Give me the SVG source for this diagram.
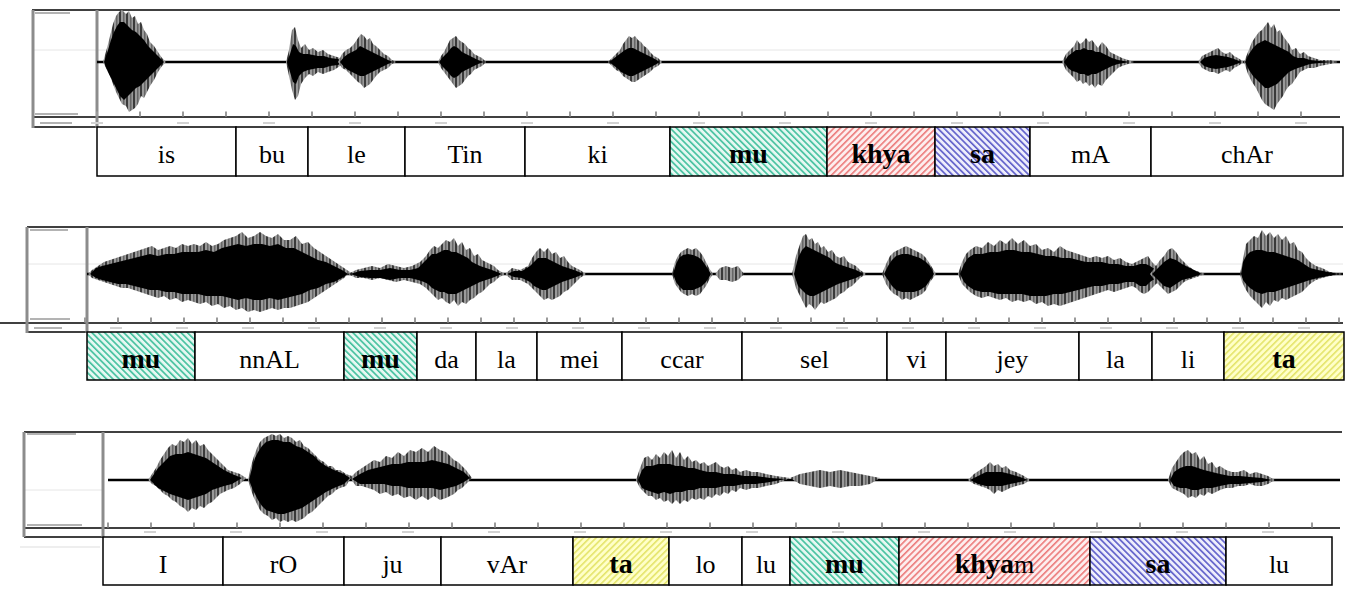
<svg xmlns="http://www.w3.org/2000/svg" width="1364" height="605" viewBox="0 0 1364 605">
<defs>
<pattern id="pTeal" patternUnits="userSpaceOnUse" width="4.5" height="4.5" patternTransform="rotate(-45)"><rect width="4.5" height="4.5" fill="#e6f8f2"/><rect width="1.6" height="4.5" fill="#3fbf9c"/></pattern>
<pattern id="pRed" patternUnits="userSpaceOnUse" width="4.5" height="4.5" patternTransform="rotate(45)"><rect width="4.5" height="4.5" fill="#fdeeee"/><rect width="1.6" height="4.5" fill="#ec7b7b"/></pattern>
<pattern id="pBlue" patternUnits="userSpaceOnUse" width="4.5" height="4.5" patternTransform="rotate(-45)"><rect width="4.5" height="4.5" fill="#eeeefc"/><rect width="1.6" height="4.5" fill="#5b5bc8"/></pattern>
<pattern id="pYellow" patternUnits="userSpaceOnUse" width="4.5" height="4.5" patternTransform="rotate(45)"><rect width="4.5" height="4.5" fill="#ffffc8"/><rect width="1.6" height="4.5" fill="#e4e46a"/></pattern>
<pattern id="pWave" patternUnits="userSpaceOnUse" width="7" height="10"><rect width="7" height="10" fill="#9a9a9a"/><rect width="2" height="10" fill="#3a3a3a"/><rect x="4" width="1.5" height="10" fill="#666"/></pattern>
</defs>
<style>
.box{stroke:#000;stroke-width:1.5;fill:#fff}
.t{font-family:"Liberation Serif","Times New Roman",serif;font-size:26px;fill:#000;text-anchor:middle}
.b{font-weight:bold;font-size:28px}
.n{font-weight:normal;font-size:26px}
.frame{stroke:#000;stroke-width:1.5;fill:none}
.vax{stroke:#8c8c8c;stroke-width:3;fill:none}
.grid{stroke:#e6e6e6;stroke-width:1}
.tick{stroke:#9a9a9a;stroke-width:5;fill:none}
.tlab{stroke:#d2d2d2;stroke-width:2;fill:none}
.base{stroke:#000;stroke-width:2.5;fill:none}
.g{fill:url(#pWave)}
.k{fill:#000}
.smudge{stroke:#9a9a9a;stroke-width:1.5}
</style>

<!-- Panel 1 -->
<g id="wave1">
<line class="grid" x1="33" y1="50" x2="1340" y2="50"/>
<line class="frame" x1="32" y1="10" x2="1340" y2="10"/>
<line class="frame" x1="32" y1="117" x2="1340" y2="117" stroke-width="1.2"/>
<line class="frame" x1="32" y1="127" x2="97" y2="127" stroke-width="1.2"/>
<line class="vax" x1="33" y1="10" x2="33" y2="128"/>
<line class="vax" x1="97" y1="10" x2="97" y2="128"/>
<line class="smudge" x1="35" y1="13" x2="70" y2="13"/>
<line class="smudge" x1="35" y1="114" x2="78" y2="114"/>
<line class="smudge" x1="40" y1="123" x2="72" y2="123" stroke="#ccc"/>
<line class="tick" x1="96" y1="114" x2="1340" y2="114" stroke-dasharray="2 41"/>
<line class="tlab" x1="91" y1="123" x2="1340" y2="123" stroke-dasharray="12 74"/>
<line class="base" x1="97" y1="62" x2="1340" y2="62"/>
<path class="g" d="M103,62 L107,48 110,36 113,24 116,16 119,12 122,10 126,14 129,11 132,18 135,16 138,24 141,22 144,30 147,34 150,42 154,46 158,52 162,58 166,62 L162,66 158,72 154,80 150,86 147,92 144,98 141,96 138,104 135,108 132,110 129,112 126,106 122,104 119,98 116,92 113,84 110,76 107,70 Z"/>
<path class="k" d="M104,62 L108,50 111,40 114,32 117,26 120,22 124,22 128,26 132,30 136,32 140,36 144,40 148,46 152,50 156,54 160,58 164,62 L160,66 156,70 152,74 148,78 144,82 140,86 136,88 132,92 128,96 124,100 120,96 117,90 114,84 111,78 108,72 Z"/>
<path class="g" d="M286,62 L289,50 292,30 295,27 298,40 301,48 305,44 309,50 313,48 318,52 323,50 328,54 334,56 340,58 345,62 L340,66 334,70 328,72 323,74 318,72 313,76 309,74 305,78 301,84 298,96 295,100 292,90 289,76 Z"/>
<path class="k" d="M287,62 L290,54 293,44 296,46 299,52 303,54 308,54 313,55 318,56 324,56 330,58 338,59 344,62 L338,65 330,66 324,68 318,68 313,69 308,70 303,72 299,76 296,84 293,82 290,72 Z"/>
<path class="g" d="M338,62 L342,54 346,50 350,48 354,44 358,38 361,34 364,36 367,40 370,38 373,44 376,46 380,50 384,54 388,56 392,60 396,62 L392,64 388,68 384,70 380,72 376,76 373,80 370,84 367,86 364,88 361,84 358,82 354,78 350,74 346,70 342,68 Z"/>
<path class="k" d="M340,62 L344,57 348,54 352,52 356,50 360,46 364,48 368,50 372,52 376,54 380,56 384,58 388,60 393,62 L388,64 384,66 380,68 376,70 372,72 368,74 364,76 360,76 356,74 352,72 348,70 344,67 Z"/>
<path class="g" d="M438,62 L441,56 444,52 447,46 450,40 453,38 456,36 459,40 462,42 465,44 468,48 471,50 474,54 478,56 482,58 486,62 L482,66 478,68 474,70 471,74 468,76 465,80 462,84 459,86 456,88 453,84 450,80 447,76 444,72 441,68 Z"/>
<path class="k" d="M439,62 L442,58 445,55 448,52 451,48 454,46 458,48 462,52 466,54 470,56 474,58 478,60 484,62 L478,64 474,66 470,68 466,70 462,72 458,76 454,78 451,76 448,72 445,69 442,66 Z"/>
<path class="g" d="M608,62 L612,58 616,54 620,50 623,44 626,40 629,36 632,38 635,36 638,40 641,42 644,46 647,48 650,52 654,56 658,58 662,62 L658,66 654,68 650,72 647,74 644,76 641,78 638,80 635,82 632,82 629,80 626,78 623,76 620,72 616,70 612,66 Z"/>
<path class="k" d="M609,62 L613,59 617,56 621,53 625,50 629,48 633,48 637,50 641,52 645,54 649,56 653,58 660,62 L653,66 649,68 645,70 641,72 637,74 633,76 629,76 625,74 621,72 617,68 613,65 Z"/>
<path class="g" d="M1062,62 L1066,54 1070,50 1074,46 1077,40 1080,44 1083,42 1086,38 1089,42 1092,40 1095,44 1098,48 1102,42 1106,46 1110,52 1114,54 1118,56 1122,58 1128,60 1134,62 L1128,64 1122,66 1118,68 1114,72 1110,76 1106,80 1102,86 1098,84 1095,88 1092,84 1089,86 1086,82 1083,84 1080,80 1077,82 1074,78 1070,74 1066,70 Z"/>
<path class="k" d="M1064,62 L1068,56 1072,53 1076,50 1080,50 1084,48 1088,50 1092,50 1096,52 1100,52 1104,54 1108,56 1112,58 1118,60 1130,62 L1118,64 1112,66 1108,68 1104,70 1100,72 1096,74 1092,74 1088,76 1084,74 1080,74 1076,72 1072,71 1068,68 Z"/>
<path class="g" d="M1198,62 L1202,56 1206,54 1210,52 1214,50 1218,48 1222,52 1226,54 1230,52 1234,56 1238,58 1244,62 L1238,66 1234,68 1230,72 1226,70 1222,72 1218,74 1214,72 1210,72 1206,70 1202,68 Z"/>
<path class="k" d="M1200,62 L1204,58 1210,56 1216,55 1222,56 1228,57 1234,59 1242,62 L1234,65 1228,67 1222,68 1216,69 1210,68 1204,66 Z"/>
<path class="g" d="M1244,62 L1248,52 1252,42 1256,36 1259,32 1262,30 1265,26 1268,22 1271,28 1274,24 1277,32 1280,30 1283,36 1286,40 1289,44 1292,50 1296,48 1300,54 1304,52 1308,56 1314,58 1320,60 1330,60 1338,62 L1330,64 1320,66 1314,68 1308,68 1304,70 1300,72 1296,78 1292,84 1289,86 1286,90 1283,96 1280,100 1277,104 1274,110 1271,108 1268,106 1265,104 1262,100 1259,94 1256,88 1252,82 1248,74 Z"/>
<path class="k" d="M1245,62 L1249,54 1253,48 1257,44 1261,42 1265,40 1269,42 1273,44 1277,46 1281,48 1285,50 1289,52 1293,56 1298,58 1304,58 1310,60 1320,61 1336,62 L1320,63 1310,64 1304,66 1298,68 1293,70 1289,72 1285,76 1281,80 1277,84 1273,86 1269,88 1265,88 1261,84 1257,80 1253,76 1249,70 Z"/>
</g>

<!-- Panel 2 -->
<g id="wave2">
<line class="grid" x1="27" y1="264" x2="1343" y2="264"/>
<line class="frame" x1="27" y1="227" x2="1343" y2="227" stroke="#777" stroke-width="1.2"/>
<line class="frame" x1="0" y1="323" x2="1343" y2="323" stroke-width="1.2"/>
<line class="frame" x1="27" y1="332" x2="87" y2="332" stroke-width="1.2"/>
<line class="vax" x1="27" y1="227" x2="27" y2="333"/>
<line class="vax" x1="87" y1="227" x2="87" y2="333"/>
<line class="smudge" x1="30" y1="230" x2="68" y2="230"/>
<line class="smudge" x1="30" y1="319" x2="70" y2="319"/>
<line class="smudge" x1="34" y1="328" x2="62" y2="328" stroke="#ccc"/>
<line class="tick" x1="84" y1="320" x2="1343" y2="320" stroke-dasharray="2 31"/>
<line class="tlab" x1="110" y1="328" x2="1343" y2="328" stroke-dasharray="12 54"/>
<line class="base" x1="87" y1="274" x2="1343" y2="274"/>
<path class="g" d="M88,274 L92,270 98,266 104,262 110,260 116,258 122,256 128,254 134,252 140,250 146,248 152,246 158,250 164,248 170,246 176,248 182,244 188,246 194,244 200,246 206,242 212,246 218,244 224,240 230,238 236,236 242,232 248,238 254,236 260,232 266,236 272,238 278,234 284,240 290,240 296,236 302,244 308,242 314,248 320,252 326,256 332,260 338,264 344,268 350,272 L344,278 338,282 332,286 326,290 320,294 314,298 308,302 302,304 296,306 290,308 284,308 278,310 272,308 266,310 260,312 254,310 248,312 242,308 236,310 230,306 224,308 218,304 212,306 206,302 200,304 194,302 188,300 182,302 176,298 170,300 164,296 158,298 152,296 146,294 140,292 134,290 128,288 122,288 116,286 110,284 104,282 98,280 92,278 Z"/>
<path class="k" d="M90,274 L96,268 102,266 110,264 118,262 126,260 134,258 142,256 150,254 158,256 166,254 174,254 182,252 190,252 198,252 206,250 214,252 222,248 230,246 238,244 246,246 254,244 262,244 270,246 278,244 286,248 294,248 302,252 310,256 318,260 326,262 334,266 342,270 348,274 L342,278 334,282 326,284 318,288 310,290 302,294 294,296 286,298 278,300 270,298 262,300 254,300 246,298 238,300 230,298 222,296 214,296 206,296 198,294 190,294 182,294 174,292 166,292 158,290 150,290 142,288 134,286 126,284 118,284 110,282 102,280 96,278 Z"/>
<path class="g" d="M348,274 L356,270 364,268 372,266 380,268 388,264 396,266 404,268 412,266 420,262 426,256 430,250 434,246 438,248 442,244 446,240 450,242 454,238 458,246 462,242 466,250 470,248 474,256 478,254 482,260 486,262 490,264 494,266 498,270 505,274 L498,278 494,282 490,284 486,288 482,292 478,294 474,298 470,300 466,304 462,302 458,306 454,300 450,304 446,302 442,298 438,300 434,296 430,292 426,288 420,284 412,282 404,280 396,282 388,280 380,278 372,280 364,278 356,278 Z"/>
<path class="k" d="M350,274 L360,271 370,270 380,270 390,268 400,270 410,270 418,268 424,262 428,258 432,254 436,254 440,252 444,250 448,250 452,252 456,252 460,254 464,256 468,258 472,262 476,264 480,266 486,268 492,270 502,274 L492,278 486,280 480,282 476,284 472,286 468,288 464,290 460,292 456,294 452,294 448,294 444,292 440,292 436,290 432,288 428,284 424,282 418,280 410,278 400,278 390,280 380,278 370,278 360,277 Z"/>
<path class="g" d="M505,274 L512,268 520,270 528,266 532,258 536,252 540,248 544,252 548,248 552,254 556,252 560,258 564,256 568,262 572,266 576,268 580,270 586,274 L580,278 576,282 572,286 568,290 564,292 560,296 556,298 552,300 548,298 544,300 540,296 536,292 532,288 528,284 520,280 512,280 Z"/>
<path class="k" d="M507,274 L514,271 522,271 530,266 534,262 538,258 542,258 546,258 550,260 554,262 558,264 562,266 568,268 574,270 584,274 L574,278 568,280 562,282 558,284 554,286 550,288 546,290 542,290 538,288 534,286 530,282 522,278 514,277 Z"/>
<path class="g" d="M672,274 L675,262 678,256 681,252 684,250 688,248 692,250 696,248 700,252 703,256 706,262 709,268 713,274 L709,280 706,286 703,290 700,294 696,296 692,294 688,296 684,294 681,292 678,288 675,284 Z"/>
<path class="k" d="M673,274 L676,264 679,258 683,255 688,254 693,255 698,257 702,260 706,266 711,274 L706,282 702,286 698,288 693,290 688,290 683,290 679,286 676,282 Z"/>
<path class="g" d="M715,274 L720,268 726,266 732,268 738,266 744,274 L738,280 732,282 726,280 720,280 Z"/>
<path class="g" d="M792,274 L796,256 800,244 803,236 806,234 809,240 812,238 815,244 818,242 821,248 824,246 828,252 832,250 836,256 840,258 844,256 848,262 852,264 856,266 860,270 866,274 L860,278 856,282 852,286 848,288 844,292 840,294 836,298 832,300 828,302 824,304 821,302 818,306 815,310 812,306 809,304 806,308 803,302 800,296 796,288 Z"/>
<path class="k" d="M794,274 L798,258 802,250 806,246 810,248 814,250 818,252 822,254 826,256 830,258 834,262 838,264 844,266 850,268 856,270 864,274 L856,278 850,280 844,282 838,284 834,286 830,288 826,290 822,292 818,294 814,296 810,296 806,294 802,290 798,286 Z"/>
<path class="g" d="M882,274 L886,264 890,256 894,252 898,250 902,248 906,246 910,248 914,250 918,252 922,254 926,258 930,264 936,274 L930,282 926,290 922,294 918,296 914,298 910,300 906,298 902,300 898,296 894,294 890,290 886,284 Z"/>
<path class="k" d="M884,274 L888,266 892,260 896,256 902,254 908,254 914,256 920,258 926,262 930,266 934,274 L930,280 926,286 920,290 914,292 908,292 902,292 896,290 892,286 888,280 Z"/>
<path class="g" d="M958,274 L962,262 966,254 970,250 976,246 982,248 988,242 994,246 1000,240 1006,244 1012,238 1018,244 1024,240 1030,246 1036,244 1042,250 1048,248 1054,252 1060,246 1066,250 1072,252 1078,254 1084,256 1090,258 1096,256 1102,258 1108,256 1114,260 1120,258 1126,262 1132,264 1136,262 1140,260 1144,258 1148,256 1152,262 1156,266 1162,270 1170,272 1180,274 L1170,276 1162,280 1156,284 1152,288 1148,292 1144,294 1140,292 1136,288 1132,286 1126,288 1120,290 1114,292 1108,290 1102,292 1096,294 1090,296 1084,298 1078,300 1072,302 1066,304 1060,306 1054,304 1048,306 1042,302 1036,304 1030,300 1024,302 1018,300 1012,302 1006,298 1000,300 994,298 988,296 982,298 976,296 970,292 966,288 962,284 Z"/>
<path class="k" d="M960,274 L964,264 968,258 974,254 982,254 990,252 998,252 1006,250 1014,250 1022,252 1030,252 1038,254 1046,256 1054,256 1062,258 1070,258 1078,260 1086,262 1094,262 1102,262 1110,264 1118,264 1126,266 1134,266 1140,264 1146,264 1150,266 1156,270 1166,273 1176,274 L1166,275 1156,278 1150,282 1146,286 1140,286 1134,282 1126,282 1118,284 1110,284 1102,286 1094,286 1086,288 1078,290 1070,292 1062,294 1054,294 1046,296 1038,296 1030,296 1022,294 1014,294 1006,294 998,294 990,292 982,292 974,290 968,286 964,282 Z"/>
<path class="g" d="M1150,274 L1156,266 1160,260 1164,256 1168,250 1172,248 1176,252 1180,258 1184,262 1188,266 1194,270 1205,274 L1194,278 1188,280 1184,282 1180,286 1176,290 1172,292 1168,294 1164,290 1160,286 1156,282 Z"/>
<path class="k" d="M1152,274 L1158,268 1164,262 1170,258 1176,260 1182,264 1190,268 1202,274 L1190,278 1182,280 1176,284 1170,288 1164,286 1158,280 Z"/>
<path class="g" d="M1240,274 L1242,264 1244,254 1246,244 1250,240 1254,236 1258,238 1262,230 1266,236 1270,232 1274,238 1278,234 1282,240 1286,236 1290,244 1294,242 1298,250 1302,252 1306,258 1310,262 1316,266 1322,268 1330,272 1343,274 L1330,276 1322,278 1316,280 1310,284 1306,288 1302,292 1298,294 1294,296 1290,298 1286,300 1282,298 1278,302 1274,300 1270,306 1266,302 1262,308 1258,304 1254,300 1250,296 1246,290 1244,286 1242,282 Z"/>
<path class="k" d="M1241,274 L1243,262 1246,256 1250,252 1256,250 1262,250 1268,252 1274,252 1280,254 1286,256 1292,258 1298,260 1304,264 1310,268 1318,270 1328,272 1340,274 L1328,276 1318,278 1310,280 1304,282 1298,284 1292,286 1286,288 1280,290 1274,292 1268,292 1262,294 1256,292 1250,288 1246,284 1243,280 Z"/>
</g>

<!-- Panel 3 -->
<g id="wave3">
<line class="grid" x1="24" y1="490" x2="103" y2="490"/>
<line class="frame" x1="24" y1="432" x2="1342" y2="432"/>
<line class="frame" x1="24" y1="528" x2="1340" y2="528" stroke="#888" stroke-width="1.2"/>
<line class="frame" x1="24" y1="537" x2="103" y2="537" stroke-width="1.2"/>
<line class="vax" x1="24" y1="432" x2="24" y2="537"/>
<line class="vax" x1="103" y1="432" x2="103" y2="537"/>
<line class="smudge" x1="27" y1="434" x2="76" y2="434"/>
<line class="smudge" x1="27" y1="525" x2="82" y2="525"/>
<line x1="20" y1="547" x2="100" y2="547" stroke="#eee" stroke-width="2"/>
<line class="tick" x1="107" y1="525" x2="1340" y2="525" stroke-dasharray="2 41"/>
<line class="tlab" x1="144" y1="532" x2="1340" y2="532" stroke-dasharray="12 74"/>
<line class="base" x1="108" y1="480" x2="1340" y2="480"/>
<path class="g" d="M148,480 L152,474 156,468 160,460 164,454 168,448 172,444 176,446 180,440 184,442 188,438 192,444 196,440 200,446 204,444 208,450 212,454 216,458 220,462 224,466 228,470 234,472 240,474 246,478 L240,484 234,488 228,490 224,492 220,494 216,498 212,502 208,504 204,508 200,506 196,510 192,508 188,512 184,508 180,506 176,502 172,500 168,496 164,494 160,490 156,486 152,484 Z"/>
<path class="k" d="M150,480 L154,474 158,468 162,464 166,460 170,456 176,454 182,454 188,452 194,454 200,456 206,458 212,462 218,466 224,470 232,474 242,478 L232,484 224,486 218,488 212,490 206,494 200,496 194,498 188,500 182,498 176,496 170,494 166,492 162,490 158,488 154,484 Z"/>
<path class="g" d="M248,480 L251,466 254,456 257,448 260,442 264,438 268,436 272,434 276,436 280,434 284,438 288,436 292,438 296,442 300,440 304,446 308,448 312,452 316,456 320,460 324,462 328,466 332,466 336,470 340,470 346,474 352,476 L346,486 340,488 336,490 332,494 328,496 324,500 320,504 316,508 312,512 308,514 304,518 300,520 296,522 292,520 288,522 284,520 280,522 276,518 272,520 268,516 264,514 260,510 257,504 254,498 251,490 Z"/>
<path class="k" d="M249,480 L252,468 255,458 258,452 262,446 266,442 272,440 278,440 284,442 290,442 296,446 302,448 308,452 314,456 320,462 326,466 334,470 344,474 350,478 L344,484 334,488 326,492 320,496 314,500 308,504 302,508 296,510 290,512 284,514 278,514 272,512 266,510 262,506 258,500 255,494 252,488 Z"/>
<path class="g" d="M350,478 L356,472 362,468 368,464 374,460 380,462 386,456 392,458 398,452 404,456 410,450 416,452 422,448 428,452 434,446 440,450 446,452 450,456 454,460 458,462 462,466 466,470 472,478 L466,484 462,488 458,490 454,494 450,496 446,498 440,500 434,496 428,500 422,496 416,500 410,496 404,498 398,494 392,496 386,492 380,494 374,490 368,488 362,486 356,486 Z"/>
<path class="k" d="M352,479 L360,474 368,470 376,468 384,466 392,464 400,464 408,462 416,462 424,462 432,460 440,462 448,464 456,468 464,472 470,478 L464,482 456,486 448,488 440,490 432,488 424,488 416,488 408,488 400,486 392,486 384,484 376,484 368,484 360,484 Z"/>
<path class="g" d="M636,480 L640,468 644,458 648,456 652,460 656,454 660,458 664,452 668,456 672,450 676,458 680,452 684,460 688,456 692,462 696,460 700,464 704,462 708,466 712,464 716,462 720,466 724,468 728,466 732,470 736,468 740,472 746,470 752,472 758,472 766,474 776,476 790,478 L776,484 766,486 758,488 752,488 746,490 740,488 736,492 732,490 728,494 724,492 720,496 716,494 712,498 708,496 704,500 700,498 696,500 692,498 688,502 684,500 680,504 676,500 672,504 668,500 664,502 660,498 656,500 652,496 648,496 644,492 640,488 Z"/>
<path class="k" d="M638,480 L642,470 646,466 652,466 658,464 664,464 670,464 676,466 682,466 688,468 694,468 700,470 708,472 716,472 724,474 734,474 744,476 756,476 770,478 786,479 L770,482 756,484 744,484 734,486 724,486 716,488 708,488 700,488 694,490 688,490 682,492 676,492 670,494 664,492 658,494 652,492 646,490 642,488 Z"/>
<path class="g" d="M790,478 L800,474 810,472 820,470 830,472 840,470 850,472 860,474 870,476 880,478 L870,484 860,486 850,486 840,488 830,486 820,488 810,486 800,484 Z"/>
<path class="g" d="M968,480 L974,474 980,470 986,466 990,462 994,466 998,464 1002,468 1006,466 1010,470 1016,472 1024,476 1030,480 L1024,484 1016,486 1010,488 1006,490 1002,492 998,490 994,494 990,490 986,488 980,486 974,484 Z"/>
<path class="k" d="M970,480 L978,476 986,472 994,472 1002,472 1010,474 1020,477 1028,480 L1020,482 1010,484 1002,486 994,486 986,486 978,484 Z"/>
<path class="g" d="M1168,480 L1172,468 1176,462 1180,456 1184,452 1188,450 1192,454 1196,452 1200,460 1204,456 1208,464 1212,462 1216,468 1220,466 1226,470 1232,472 1238,472 1244,470 1250,474 1256,472 1262,474 1268,476 1275,480 L1268,484 1262,486 1256,486 1250,484 1244,486 1238,486 1232,488 1226,488 1220,490 1216,492 1212,494 1208,492 1204,496 1200,494 1196,498 1192,496 1188,498 1184,494 1180,492 1176,490 1172,488 Z"/>
<path class="k" d="M1170,480 L1174,472 1180,468 1186,466 1192,466 1198,468 1204,470 1212,472 1220,474 1230,476 1240,476 1250,477 1262,478 1272,480 L1262,482 1250,483 1240,484 1230,484 1220,486 1212,488 1204,488 1198,490 1192,490 1186,488 1180,488 1174,486 Z"/>
</g>

<!-- Row 1 segments -->
<g id="r1-is"><rect class="box" x="97" y="127" width="139" height="49"/><text class="t" x="166.5" y="163">is</text></g>
<g id="r1-bu"><rect class="box" x="236" y="127" width="72" height="49"/><text class="t" x="272" y="163">bu</text></g>
<g id="r1-le"><rect class="box" x="308" y="127" width="97" height="49"/><text class="t" x="356.5" y="163">le</text></g>
<g id="r1-Tin"><rect class="box" x="405" y="127" width="120" height="49"/><text class="t" x="465" y="163">Tin</text></g>
<g id="r1-ki"><rect class="box" x="525" y="127" width="145" height="49"/><text class="t" x="597.5" y="163">ki</text></g>
<g id="r1-mu"><rect class="box" x="670" y="127" width="157" height="49" style="fill:url(#pTeal)"/><text class="t b" x="748.5" y="163">mu</text></g>
<g id="r1-khya"><rect class="box" x="827" y="127" width="108" height="49" style="fill:url(#pRed)"/><text class="t b" x="881" y="163">khya</text></g>
<g id="r1-sa"><rect class="box" x="935" y="127" width="95" height="49" style="fill:url(#pBlue)"/><text class="t b" x="982.5" y="163">sa</text></g>
<g id="r1-mA"><rect class="box" x="1030" y="127" width="121" height="49"/><text class="t" x="1090.5" y="163">mA</text></g>
<g id="r1-chAr"><rect class="box" x="1151" y="127" width="192" height="49"/><text class="t" x="1247" y="163">chAr</text></g>

<!-- Row 2 segments -->
<g id="r2-mu1"><rect class="box" x="87" y="332" width="108" height="48" style="fill:url(#pTeal)"/><text class="t b" x="141" y="368">mu</text></g>
<g id="r2-nnAL"><rect class="box" x="195" y="332" width="149" height="48"/><text class="t" x="269.5" y="368">nnAL</text></g>
<g id="r2-mu2"><rect class="box" x="344" y="332" width="73" height="48" style="fill:url(#pTeal)"/><text class="t b" x="380.5" y="368">mu</text></g>
<g id="r2-da"><rect class="box" x="417" y="332" width="59" height="48"/><text class="t" x="446.5" y="368">da</text></g>
<g id="r2-la1"><rect class="box" x="476" y="332" width="61" height="48"/><text class="t" x="506.5" y="368">la</text></g>
<g id="r2-mei"><rect class="box" x="537" y="332" width="85" height="48"/><text class="t" x="579.5" y="368">mei</text></g>
<g id="r2-ccar"><rect class="box" x="622" y="332" width="120" height="48"/><text class="t" x="682" y="368">ccar</text></g>
<g id="r2-sel"><rect class="box" x="742" y="332" width="145" height="48"/><text class="t" x="814.5" y="368">sel</text></g>
<g id="r2-vi"><rect class="box" x="887" y="332" width="59" height="48"/><text class="t" x="916.5" y="368">vi</text></g>
<g id="r2-jey"><rect class="box" x="946" y="332" width="133" height="48"/><text class="t" x="1012.5" y="368">jey</text></g>
<g id="r2-la2"><rect class="box" x="1079" y="332" width="73" height="48"/><text class="t" x="1115.5" y="368">la</text></g>
<g id="r2-li"><rect class="box" x="1152" y="332" width="72" height="48"/><text class="t" x="1188" y="368">li</text></g>
<g id="r2-ta"><rect class="box" x="1224" y="332" width="120" height="48" style="fill:url(#pYellow)"/><text class="t b" x="1284" y="368">ta</text></g>

<!-- Row 3 segments -->
<g id="r3-I"><rect class="box" x="103" y="537" width="120" height="48"/><text class="t" x="163" y="573">I</text></g>
<g id="r3-rO"><rect class="box" x="223" y="537" width="121" height="48"/><text class="t" x="283.5" y="573">rO</text></g>
<g id="r3-ju"><rect class="box" x="344" y="537" width="97" height="48"/><text class="t" x="392.5" y="573">ju</text></g>
<g id="r3-vAr"><rect class="box" x="441" y="537" width="132" height="48"/><text class="t" x="507" y="573">vAr</text></g>
<g id="r3-ta"><rect class="box" x="573" y="537" width="96" height="48" style="fill:url(#pYellow)"/><text class="t b" x="621" y="573">ta</text></g>
<g id="r3-lo"><rect class="box" x="669" y="537" width="73" height="48"/><text class="t" x="705.5" y="573">lo</text></g>
<g id="r3-lu1"><rect class="box" x="742" y="537" width="48" height="48"/><text class="t" x="766" y="573">lu</text></g>
<g id="r3-mu"><rect class="box" x="790" y="537" width="109" height="48" style="fill:url(#pTeal)"/><text class="t b" x="844.5" y="573">mu</text></g>
<g id="r3-khyam"><rect class="box" x="899" y="537" width="191" height="48" style="fill:url(#pRed)"/><text class="t b" x="994.5" y="573">khya<tspan class="n">m</tspan></text></g>
<g id="r3-sa"><rect class="box" x="1090" y="537" width="136" height="48" style="fill:url(#pBlue)"/><text class="t b" x="1158" y="573">sa</text></g>
<g id="r3-lu2"><rect class="box" x="1226" y="537" width="106" height="48"/><text class="t" x="1279" y="573">lu</text></g>

<g id="connectors"></g>
</svg>
